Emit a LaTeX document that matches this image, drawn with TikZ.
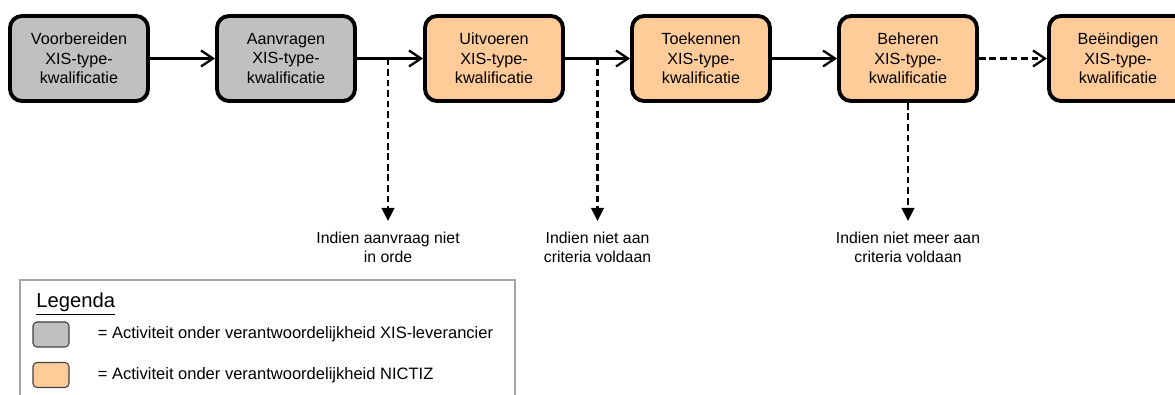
\documentclass[tikz,border=0pt]{standalone}
\usepackage{fontspec}
\setmainfont{Liberation Sans}
\usetikzlibrary{calc,positioning,arrows.meta}
\definecolor{actgray}{RGB}{192,192,192}
\definecolor{actorange}{RGB}{255,204,153}
\definecolor{framegray}{RGB}{165,165,165}

\begin{document}
\begin{tikzpicture}[
        activity/.style={draw, line width=2.2pt, rounded corners=0.24cm, minimum width=2.76cm, minimum height=1.7cm, inner sep=0pt, align=center, font=\fontsize{9.2}{11.2}\selectfont},
        flow/.style={line width=1.3pt, -{Straight Barb[length=2.4mm,width=3.2mm,line width=1.3pt]}},
        branch/.style={line width=1.3pt, dash pattern=on 3.8pt off 2.2pt, -{Triangle[length=2.6mm,width=2.5mm]}, shorten >=0.21cm},
        outcome/.style={anchor=north, inner sep=0pt, align=center, font=\fontsize{9}{10.8}\selectfont},
        swatch/.style={draw=black!75, line width=0.6pt, rounded corners=0.08cm, minimum width=0.72cm, minimum height=0.5cm, inner sep=0pt},
        keytext/.style={inner sep=0pt, font=\fontsize{9.4}{11}\selectfont}
    ]
                \useasboundingbox (0,0) rectangle (23.5,7.88);
                \node[activity, fill=actgray] (voorb) at (1.58,6.71) {Voorbereiden\\XIS-type-\\kwalificatie};
                \node[activity, fill=actgray] (aanvr) at (5.72,6.71) {Aanvragen\\XIS-type-\\kwalificatie};
                \node[activity, fill=actorange] (uitv) at (9.88,6.71) {Uitvoeren\\XIS-type-\\kwalificatie};
                \node[activity, fill=actorange] (toek) at (14.02,6.71) {Toekennen\\XIS-type-\\kwalificatie};
                \node[activity, fill=actorange] (beh) at (18.16,6.71) {Beheren\\XIS-type-\\kwalificatie};
                \node[activity, fill=actorange] (beeind) at (22.36,6.71) {Beëindigen\\XIS-type-\\kwalificatie};
                \draw[flow] (voorb) -- (aanvr);
                \draw[flow] (aanvr) -- (uitv);
                \draw[flow] (uitv) -- (toek);
                \draw[flow] (toek) -- (beh);
                \draw[flow, dash pattern=on 3.8pt off 2.2pt] (beh) -- (beeind);
                \coordinate (split1) at ($(aanvr.east)!.47!(uitv.west)$);
                \coordinate (split2) at ($(uitv.east)!.5!(toek.west)$);
                \node[outcome] (nietorde) at (split1 |- 0,3.25) {Indien aanvraag niet\\in orde};
                \node[outcome] (nietaan) at (split2 |- 0,3.25) {Indien niet aan\\criteria voldaan};
                \node[outcome] (nietmeer) at (beh.south |- 0,3.25) {Indien niet meer aan\\criteria voldaan};
                \draw[branch] (split1) -- (nietorde.north);
                \draw[branch] (split2) -- (nietaan.north);
                \draw[branch] (beh.south) -- (nietmeer.north);
                \draw[framegray, line width=0.85pt] (0.4,-0.5) rectangle (10.3,2.28);
                \node[anchor=base west, inner sep=0pt, font=\fontsize{11.5}{13}\selectfont] (legtitle) at (0.72,1.72) {\underline{Legenda}};
                \node[swatch, fill=actgray] (keygray) at (1.02,1.19) {};
                \node[swatch, fill=actorange] (keyorange) at (1.02,0.38) {};
                \node[keytext, right=0.56cm of keygray] (textgray) {= Activiteit onder verantwoordelijkheid XIS-leverancier};
                \node[keytext, right=0.56cm of keyorange] (textorange) {= Activiteit onder verantwoordelijkheid NICTIZ};
            \end{tikzpicture}
\end{document}
